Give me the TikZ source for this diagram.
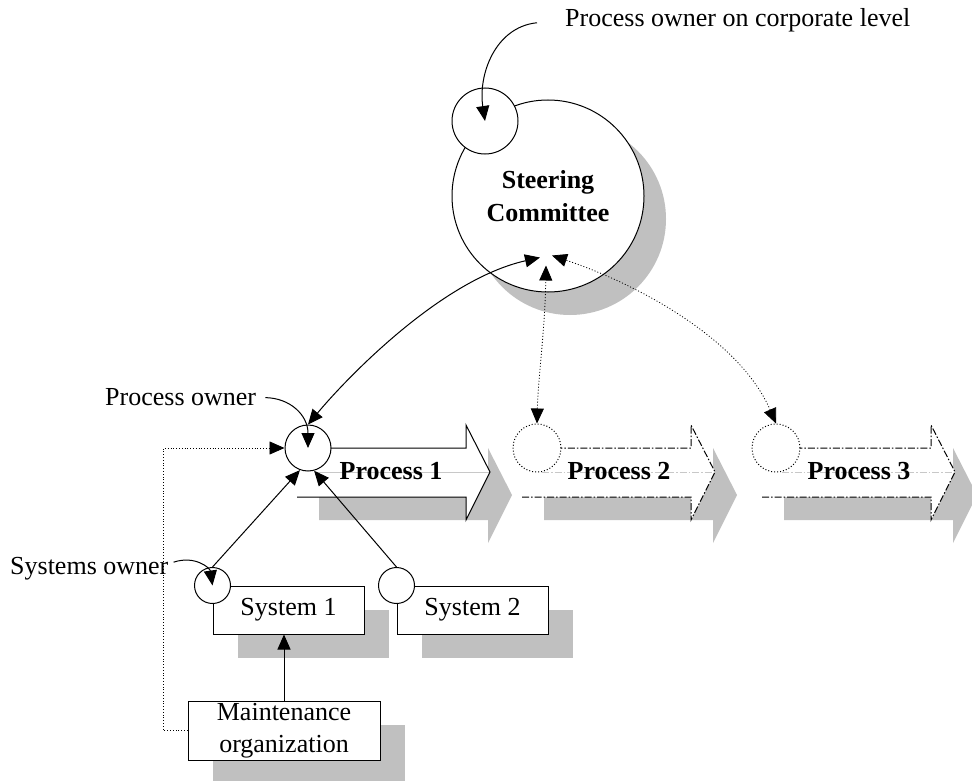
\documentclass[tikz,border=0pt]{standalone}
\usepackage{fontspec}
\setmainfont{Liberation Serif}
\usepackage{tikz}
\usetikzlibrary{arrows.meta, positioning, shadows, calc}
\definecolor{shadowgray}{HTML}{C0C0C0}
\definecolor{guidegray}{HTML}{C8C8C8}
\newcommand{\procarrow}[2]{%
    \begin{scope}[xshift=#1pt]
        \fill[shadowgray] (22,471) -- (191,471) -- (191,448) -- (215,495) -- (191,543) -- (191,520) -- (22,520) -- cycle;
        \fill[white] (0,448) -- (169,448) -- (169,425) -- (193,472) -- (169,520) -- (169,497) -- (0,497) -- cycle;
        \draw[#2, guidegray, line width=0.6pt] (20,472) -- (193,472);
        \draw[#2] (0,497) -- (169,497) -- (169,520) -- (193,472) -- (169,425) -- (169,448) -- (0,448);
    \end{scope}}

\begin{document}
\begin{tikzpicture}[
        x=1pt, y=-1pt,
        every node/.style={inner sep=0pt, font=\fontsize{26}{32}\selectfont},
        owner/.style={circle, draw, line width=1pt, fill=white, minimum size=#1},
        sysbox/.style={
            rectangle,
            draw,
            line width=1pt,
            fill=white,
            minimum width=151pt,
            minimum height=48pt,
            align=center,
            drop shadow={shadow xshift=25pt, shadow yshift=-24pt, opacity=1, fill=shadowgray}
        },
        proclabel/.style={font=\bfseries\fontsize{26}{32}\selectfont},
        procline/.style={line width=1pt},
        procdash/.style={line width=1pt, dash pattern=on 7pt off 2pt on 1.5pt off 2pt},
        link/.style={-{Triangle[length=15pt, width=13pt]}, line width=1pt},
        twolink/.style={{Triangle[length=15pt, width=13pt]}-{Triangle[length=15pt, width=13pt]}, line width=1pt},
        feedback/.style={-{Triangle[length=15pt, width=13pt]}, dotted, line width=0.8pt}
    ]
        \useasboundingbox (0,0) rectangle (972,781);

        % Steering committee
        \node[owner=192pt, align=center, font=\bfseries\fontsize{26}{33}\selectfont,
              drop shadow={shadow xshift=22pt, shadow yshift=-23pt, opacity=1, fill=shadowgray}]
              (steer) at (548,196) {Steering\\Committee};
        \node[owner=66pt] (corp) at (485,121) {};
        \coordinate (hubleft) at ($(steer.south)+(-8,-35)$);
        \coordinate (hubmid) at ($(steer.south)+(-2,-27)$);
        \coordinate (hubright) at ($(steer.south)+(4,-37)$);

        % Processes
        \procarrow{297}{procline}
        \procarrow{522}{procdash}
        \procarrow{762}{procdash}
        \node[owner=46pt] (po1) at (308,448) {};
        \node[owner=48pt, dotted] (po2) at (537,448) {};
        \node[owner=48pt, dotted] (po3) at (776,448) {};
        \node[proclabel] (proc1) at (391,471) {Process 1};
        \node[proclabel] (proc2) at (619,471) {Process 2};
        \node[proclabel] (proc3) at (859,471) {Process 3};

        % Systems
        \node[sysbox] (sys1) at (288.5,610) {System 1};
        \node[owner=36pt] (so1) at (sys1.north west) {};
        \node[sysbox] (sys2) at (472.5,610) {System 2};
        \node[owner=36pt] (so2) at (sys2.north west) {};
        \node[sysbox, minimum width=192pt, minimum height=59pt] (maint) at (284,730.5) {Maintenance\\organization};

        % Labels
        \node[anchor=base west] (corplabel) at (565,27) {Process owner on corporate level};
        \node[anchor=base west] (polabel) at (105,405) {Process owner};
        \node[anchor=base west] (solabel) at (10,574) {Systems owner};

        % Arrows
        \draw[link] ($(corplabel.west)+(-28,2)$) .. controls (495,27) and (478,75) .. (corp.center);
        \draw[link] ($(polabel.east)+(9,1)$) .. controls (290,398) and (308,415) .. (po1.center);
        \draw[link] ($(solabel.east)+(5,-6)$) .. controls (195,555) and (210,568) .. (so1.center);
        \draw[link] (so1.north) -- (po1.250);
        \draw[link] (so2.north) -- (po1.285);
        \draw[link] (maint.north) -- (maint.north |- sys1.south);
        \draw[feedback] (maint.west) -- ++(-24,0) |- (po1.west);

        \draw[twolink] (po1.north) .. controls (345,380) and (440,280) .. (hubleft);
        \draw[twolink, dotted, line width=0.8pt] (po2.north) .. controls (538,380) and (545,330) .. (hubmid);
        \draw[twolink, dotted, line width=0.8pt] (po3.north) .. controls (740,340) and (640,285) .. (hubright);
    \end{tikzpicture}
\end{document}
